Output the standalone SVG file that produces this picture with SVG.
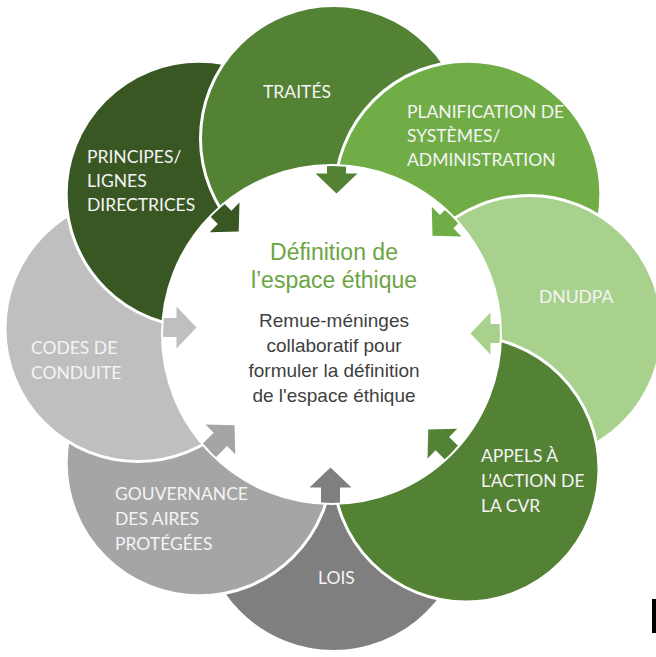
<svg xmlns="http://www.w3.org/2000/svg" xmlns:xlink="http://www.w3.org/1999/xlink" width="656" height="657" viewBox="0 0 656 657">
  <style>
    .blob { stroke: #FFFFFF; stroke-width: 3; }
    .lbl { font-family: Lato, "Open Sans", "Liberation Sans", sans-serif; font-size: 17.5px; fill: #F4F4F4; }
    .title { font-family: "Liberation Sans", Arial, sans-serif; font-size: 23px; fill: #6BA443; text-anchor: middle; }
    .body { font-family: "Liberation Sans", Arial, sans-serif; font-size: 19px; fill: #404040; text-anchor: middle; }
  </style>
  <defs>
    <mask id="hole" maskUnits="userSpaceOnUse" x="0" y="0" width="656" height="657">
      <rect width="656" height="657" fill="#FFFFFF"/>
      <circle cx="331.5" cy="334.5" r="169.5" fill="#000000"/>
    </mask>
    <path id="arw" d="M336.5,193.5 L357.5,173.5 L346,173.5 L346,145.5 L327,145.5 L327,173.5 L315.5,173.5 Z"/>
  </defs>
  <rect width="656" height="657" fill="#FFFFFF"/>

  <g id="connectors">
    <use xlink:href="#arw" href="#arw" fill="#7F7F7F" transform="rotate(180 333.5 330.5)"/>
    <use xlink:href="#arw" href="#arw" fill="#A5A5A5" transform="rotate(225 333.5 330.5)"/>
    <use xlink:href="#arw" href="#arw" fill="#BFBFBF" transform="rotate(270 333.5 330.5)"/>
    <use xlink:href="#arw" href="#arw" fill="#385723" transform="rotate(315 333.5 330.5)"/>
    <use xlink:href="#arw" href="#arw" fill="#548235"/>
    <use xlink:href="#arw" href="#arw" fill="#70AD47" transform="rotate(45 333.5 330.5)"/>
    <use xlink:href="#arw" href="#arw" fill="#A9D18E" transform="rotate(90 333.5 330.5)"/>
    <use xlink:href="#arw" href="#arw" fill="#548235" transform="rotate(135 333.5 330.5)"/>
  </g>

  <g id="node-lois">
    <circle class="blob" cx="333.5" cy="518.5" r="133" fill="#7F7F7F" mask="url(#hole)"/>
    <text class="lbl" x="318" y="584">LOIS</text>
  </g>
  <g id="node-gouvernance">
    <circle class="blob" cx="199.15" cy="462.85" r="133" fill="#A5A5A5" mask="url(#hole)"/>
    <text class="lbl" x="115" y="500">GOUVERNANCE</text>
    <text class="lbl" x="115" y="525">DES AIRES</text>
    <text class="lbl" x="115" y="550">PROTÉGÉES</text>
  </g>
  <g id="node-codes">
    <circle class="blob" cx="138" cy="328.5" r="133" fill="#BFBFBF" mask="url(#hole)"/>
    <text class="lbl" x="31" y="354">CODES DE</text>
    <text class="lbl" x="31" y="379">CONDUITE</text>
  </g>
  <g id="node-principes">
    <circle class="blob" cx="199.15" cy="194.15" r="133" fill="#385723" mask="url(#hole)"/>
    <text class="lbl" x="87" y="163">PRINCIPES/</text>
    <text class="lbl" x="87" y="187">LIGNES</text>
    <text class="lbl" x="87" y="211">DIRECTRICES</text>
  </g>
  <g id="node-traites">
    <circle class="blob" cx="333.5" cy="138.5" r="133" fill="#548235" mask="url(#hole)"/>
    <text class="lbl" x="263" y="98">TRAITÉS</text>
  </g>
  <g id="node-planification">
    <circle class="blob" cx="467.85" cy="194.15" r="133" fill="#70AD47" mask="url(#hole)"/>
    <text class="lbl" x="407" y="118">PLANIFICATION DE</text>
    <text class="lbl" x="407" y="142">SYSTÈMES/</text>
    <text class="lbl" x="407" y="166">ADMINISTRATION</text>
  </g>
  <g id="node-dnudpa">
    <circle class="blob" cx="529" cy="328.5" r="133" fill="#A9D18E" mask="url(#hole)"/>
    <text class="lbl" x="539" y="303">DNUDPA</text>
  </g>
  <g id="node-appels">
    <circle class="blob" cx="466" cy="469" r="133" fill="#548235" mask="url(#hole)"/>
    <text class="lbl" x="481" y="462">APPELS À</text>
    <text class="lbl" x="481" y="487">L’ACTION DE</text>
    <text class="lbl" x="481" y="512">LA CVR</text>
  </g>

  <g id="node-center">
    <circle cx="331.5" cy="334.5" r="169.5" fill="none" stroke="#FFFFFF" stroke-width="2"/>
    <text class="title" x="334" y="260">Définition de</text>
    <text class="title" x="334" y="288">l’espace éthique</text>
    <text class="body" x="334" y="327">Remue-méninges</text>
    <text class="body" x="334" y="352">collaboratif pour</text>
    <text class="body" x="334" y="377">formuler la définition</text>
    <text class="body" x="334" y="402">de l'espace éthique</text>
  </g>

  <rect x="652" y="599" width="4" height="34" fill="#000000"/>
</svg>
